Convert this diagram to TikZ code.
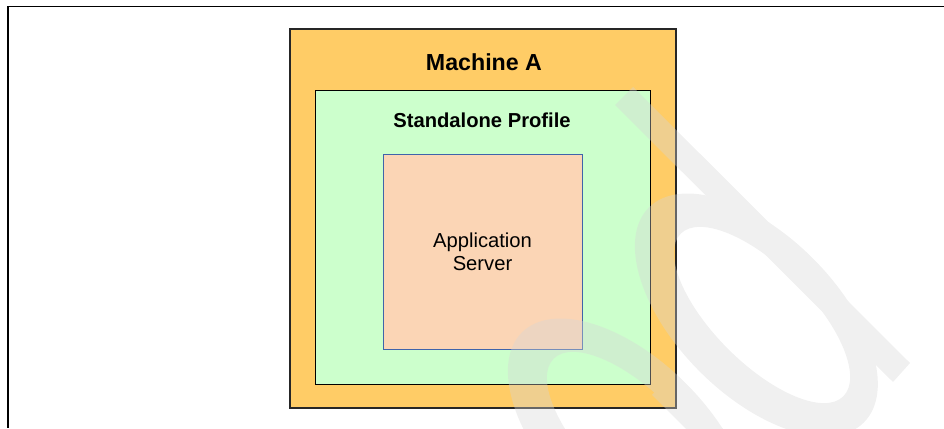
\documentclass[tikz,border=0pt]{standalone}
\usepackage{fontspec}
\setmainfont{Liberation Sans}
\usetikzlibrary{positioning}

\definecolor{machinefill}{RGB}{255,204,102}
\definecolor{profilefill}{RGB}{204,255,204}
\definecolor{serverfill}{RGB}{251,213,181}
\definecolor{serverline}{RGB}{63,100,170}
\definecolor{markgray}{RGB}{214,214,214}

\begin{document}
\begin{tikzpicture}[x=1pt,y=-1pt,
    machinebox/.style={draw=black!85,line width=1.2pt,fill=machinefill,
      minimum width=386pt,minimum height=379pt,inner sep=0pt},
    profilebox/.style={draw=black,line width=1pt,fill=profilefill,
      minimum width=335pt,minimum height=294pt,inner sep=0pt},
    serverbox/.style={draw=serverline,line width=0.9pt,fill=serverfill,
      minimum width=199pt,minimum height=195pt,inner sep=0pt,
      align=center,font=\fontsize{20.2}{23}\selectfont},
    boxtitle/.style={inner sep=0pt,font=\bfseries\fontsize{#1}{#1}\selectfont}]
  \useasboundingbox (0,0) rectangle (944,428);
  % frame
  \draw[line width=1.2pt] (944,6.5) -- (8,6.5) -- (8,428);
  \node[machinebox] (machine) at (483,218.5) {};
  \node[profilebox] (profile) at (482.5,237) {};
  \node[serverbox] (server) at (482.5,251.5) {Application\\Server};
  \node[boxtitle=23.2] (machinetitle) at (484,62) {Machine A};
  \node[boxtitle=20.2] (profiletitle) at (482,120) {Standalone Profile};
  % watermark
  \begin{scope}[transparency group,opacity=0.37]
    \clip (0,0) rectangle (944,428);
    \fill[markgray] (615,105) -- (633,87) -- (910,363) -- (893,382) -- cycle;
    \fill[markgray,even odd rule,rotate around={-45:(762,315)}]
      (758,319) ellipse [x radius=152,y radius=80]
      (762,315) ellipse [x radius=115,y radius=48];
    \fill[markgray,even odd rule,rotate around={-45:(635,440)}]
      (631,444) ellipse [x radius=152,y radius=80]
      (635,440) ellipse [x radius=115,y radius=48];
    \fill[markgray] (652,394.8) -- (670.4,376.4) -- (790.6,496.6)
      -- (772.2,515) -- cycle;
  \end{scope}
\end{tikzpicture}
\end{document}
